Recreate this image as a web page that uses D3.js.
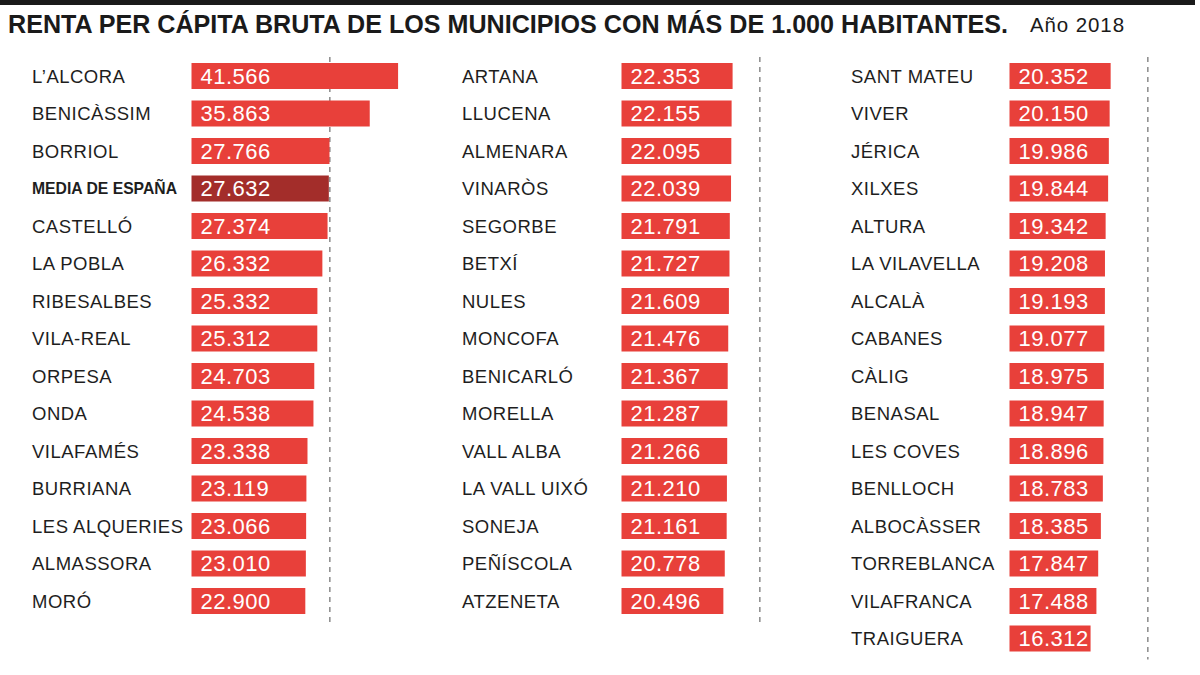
<!DOCTYPE html>
<html>
<head>
<meta charset="utf-8">
<script src="https://cdn.jsdelivr.net/npm/d3@7"></script>
<style>
  html, body { margin: 0; padding: 0; background: #fff; }
  svg { display: block; }
  text { font-family: "Liberation Sans", Arial, Helvetica, sans-serif; }
</style>
</head>
<body>
<svg id="chart" width="1200" height="675"></svg>
<script>
// ---- DATA ----
const title = "RENTA PER CÁPITA BRUTA DE LOS MUNICIPIOS CON MÁS DE 1.000 HABITANTES.";
const subtitle = "Año 2018";
const highlightName = "MEDIA DE ESPAÑA";
const spainMean = 27632;

const col1Names = ["L’ALCORA", "BENICÀSSIM", "BORRIOL", "MEDIA DE ESPAÑA", "CASTELLÓ", "LA POBLA", "RIBESALBES", "VILA-REAL", "ORPESA", "ONDA", "VILAFAMÉS", "BURRIANA", "LES ALQUERIES", "ALMASSORA", "MORÓ"];
const col1Values = [41566, 35863, 27766, 27632, 27374, 26332, 25332, 25312, 24703, 24538, 23338, 23119, 23066, 23010, 22900];

const col2Names = ["ARTANA", "LLUCENA", "ALMENARA", "VINARÒS", "SEGORBE", "BETXÍ", "NULES", "MONCOFA", "BENICARLÓ", "MORELLA", "VALL ALBA", "LA VALL UIXÓ", "SONEJA", "PEÑÍSCOLA", "ATZENETA"];
const col2Values = [22353, 22155, 22095, 22039, 21791, 21727, 21609, 21476, 21367, 21287, 21266, 21210, 21161, 20778, 20496];

const col3Names = ["SANT MATEU", "VIVER", "JÉRICA", "XILXES", "ALTURA", "LA VILAVELLA", "ALCALÀ", "CABANES", "CÀLIG", "BENASAL", "LES COVES", "BENLLOCH", "ALBOCÀSSER", "TORREBLANCA", "VILAFRANCA", "TRAIGUERA"];
const col3Values = [20352, 20150, 19986, 19844, 19342, 19208, 19193, 19077, 18975, 18947, 18896, 18783, 18385, 17847, 17488, 16312];

// ---- LAYOUT ----
const svg = d3.select("#chart");
const fmt = v => d3.format(",")(v).replace(/,/g, ".");

const x = d3.scaleLinear().domain([0, 45000]).range([0, 45 * 4.97]);
const y = d3.scaleLinear().domain([0, 1]).range([76, 113.5]);
const barH = 26;

const columns = [
  { names: col1Names, values: col1Values, labelX: 32, barX: 191.5 },
  { names: col2Names, values: col2Values, labelX: 462, barX: 621.5 },
  { names: col3Names, values: col3Values, labelX: 851, barX: 1009.5 }
];

// top black band
svg.append("rect").attr("x", 0).attr("y", 0).attr("width", 1195).attr("height", 5).attr("fill", "#1a1a1a");

// title
svg.append("text")
  .attr("x", 8).attr("y", 33)
  .attr("font-size", 25).attr("font-weight", "bold").attr("fill", "#1a1a1a")
  .attr("textLength", 1000).attr("lengthAdjust", "spacingAndGlyphs")
  .text(title);
svg.append("text")
  .attr("x", 1030).attr("y", 32)
  .attr("font-size", 20.5).attr("fill", "#1a1a1a")
  .style("letter-spacing", "0.9px")
  .text(subtitle);

columns.forEach(col => {
  const data = col.names.map((n, i) => ({ name: n, value: col.values[i], i }));
  const g = svg.append("g");

  // dashed reference line (Spain mean)
  g.append("line")
    .attr("x1", col.barX + x(spainMean) + 1).attr("x2", col.barX + x(spainMean) + 1)
    .attr("y1", 57).attr("y2", y(data.length - 1) + 21)
    .attr("stroke", "#8a8a8a").attr("stroke-width", 1.5)
    .attr("stroke-dasharray", "5,5");

  const rows = g.selectAll("g.row").data(data).join("g").attr("class", "row");

  rows.append("rect")
    .attr("x", col.barX)
    .attr("y", d => y(d.i) - barH / 2)
    .attr("width", d => x(d.value))
    .attr("height", barH)
    .attr("fill", d => d.name === highlightName ? "#a32d2a" : "#e8403a");

  rows.append("text")
    .attr("x", col.barX + 9)
    .attr("y", d => y(d.i))
    .attr("dy", "0.36em")
    .attr("font-size", 22)
    .attr("fill", "#fff")
    .style("letter-spacing", "0.5px")
    .text(d => fmt(d.value));

  rows.append("text")
    .attr("x", col.labelX)
    .attr("y", d => y(d.i))
    .attr("dy", "0.36em")
    .attr("fill", "#1e1e1e")
    .each(function(d) {
      const t = d3.select(this);
      if (d.name === highlightName) {
        t.attr("font-size", 16.5).attr("font-weight", "bold")
         .attr("textLength", 145).attr("lengthAdjust", "spacingAndGlyphs");
      } else {
        t.attr("font-size", 18.5).style("letter-spacing", "0.5px");
      }
    })
    .text(d => d.name);
});
</script>
</body>
</html>
